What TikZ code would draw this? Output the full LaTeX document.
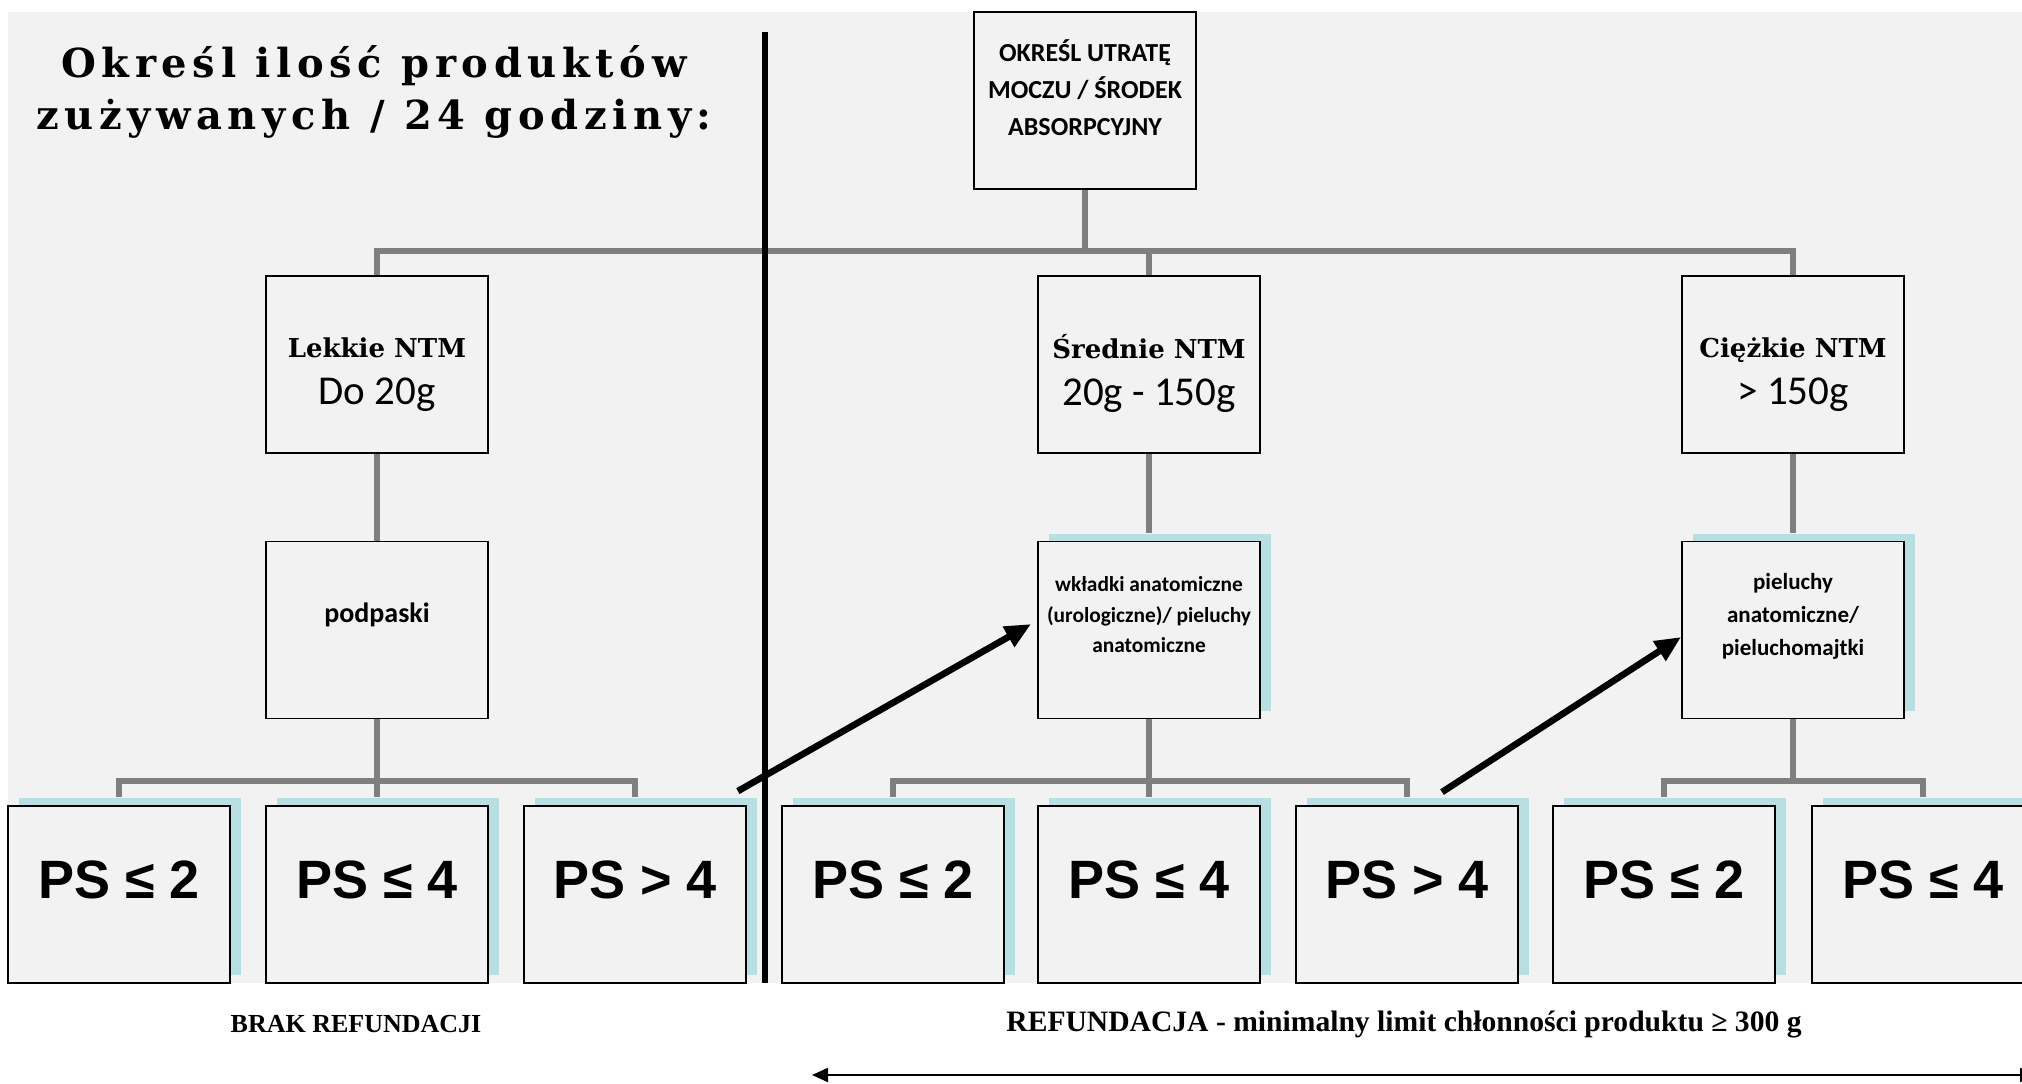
\documentclass[tikz,border=0pt]{standalone}
\usepackage{fontspec}
\setmainfont{Liberation Serif}
\newfontfamily\calibri{Carlito}
\newfontfamily\arialfont{Liberation Sans}
\newfontfamily\bookman{DejaVu Serif}
\newfontfamily\bookmanwide[LetterSpace=14]{DejaVu Serif}
\newcommand\headfont{\bookman\bfseries\fontsize{13}{15}\selectfont}
\usetikzlibrary{arrows.meta,shadows}

\definecolor{panel}{HTML}{F2F2F2}
\definecolor{linkgray}{HTML}{7F7F7F}
\definecolor{shade}{HTML}{B8DFE2}

\tikzset{
  box/.style={draw=black, line width=0.9pt, fill=panel, minimum width=111pt,
    minimum height=88.5pt, inner sep=0pt},
  shadebox/.style={box, drop shadow={shadow xshift=5.5pt, shadow yshift=4pt,
      fill=shade, opacity=1}},
  link/.style={draw=linkgray, line width=2.75pt},
  bigarrow/.style={line width=3.3pt, -{Triangle[length=13pt,width=11pt]}},
  pstext/.style={font=\arialfont\bfseries\fontsize{27}{32}\selectfont},
  grouptext/.style={align=center, font=\calibri\fontsize{20.5}{23.5}\selectfont}
}

\begin{document}
\begin{tikzpicture}[x=0.5pt, y=-0.5pt]
  \useasboundingbox (0,0) rectangle (2022,1083);

  % grey panel
  \fill[panel] (8,12) rectangle (2022,983);

  % title
  \node[font=\bookmanwide\bfseries\fontsize{20}{26}\selectfont, align=center]
    (title) at (374,92) {Określ ilość produktów\\zużywanych / 24 godziny:};

  % top box
  \node[box] (utrata) at (1085,100.5) {};
  \node[font=\calibri\bfseries\fontsize{13}{18.5}\selectfont, align=center]
    (utrata-t) at (1085,88) {OKREŚL UTRATĘ\\MOCZU / ŚRODEK\\ABSORPCYJNY};

  % level two
  \node[box] (lekkie) at (377,364.5) {};
  \node[box] (srednie) at (1149,364.5) {};
  \node[box] (ciezkie) at (1793,364.5) {};
  \node[grouptext] (lekkie-t) at (377,375)
    {{\headfont Lekkie NTM}\\Do 20g};
  \node[grouptext] (srednie-t) at (1149,373)
    {{\headfont Średnie NTM}\\20g - 150g};
  \node[grouptext] (ciezkie-t) at (1793,375)
    {{\headfont Ciężkie NTM}\\> 150g};

  % level three
  \node[box] (podpaski) at (377,630) {};
  \node[shadebox] (wkladki) at (1149,630) {};
  \node[shadebox] (pieluchy) at (1793,630) {};
  \node[font=\calibri\bfseries\fontsize{14}{17}\selectfont]
    (podpaski-t) at (377,615) {podpaski};
  \node[font=\calibri\bfseries\fontsize{10.7}{15.25}\selectfont, align=center]
    (wkladki-t) at (1149,615)
    {wkładki anatomiczne\\(urologiczne)/ pieluchy\\anatomiczne};
  \node[font=\calibri\bfseries\fontsize{11.5}{16.5}\selectfont, align=center]
    (pieluchy-t) at (1793,616) {pieluchy\\anatomiczne/\\pieluchomajtki};

  % products
  \foreach \n/\x/\t in {1/119/{PS ≤ 2}, 2/377/{PS ≤ 4}, 3/635/{PS > 4},
      4/893/{PS ≤ 2}, 5/1149/{PS ≤ 4}, 6/1407/{PS > 4},
      7/1664/{PS ≤ 2}, 8/1923/{PS ≤ 4}} {
    \node[shadebox] (ps\n) at (\x,894.5) {};
    \node[pstext] (ps\n-t) at (\x,880) {\t};
  }

  % connectors
  \draw[link] (utrata.south) -- ++(0,63);
  \draw[link] (lekkie.north) -- ++(0,-24) -| (ciezkie.north);
  \draw[link] (srednie.north) -- ++(0,-24);
  \draw[link] (lekkie.south) -- (podpaski.north);
  \draw[link] (srednie.south) -- ([yshift=4pt]wkladki.north);
  \draw[link] (ciezkie.south) -- ([yshift=4pt]pieluchy.north);
  \draw[link] (podpaski.south) -- ([yshift=4pt]ps2.north);
  \draw[link] ([yshift=4pt]ps1.north) -- ++(0,-16) -| ([yshift=4pt]ps3.north);
  \draw[link] (wkladki.south) -- ([yshift=4pt]ps5.north);
  \draw[link] ([yshift=4pt]ps4.north) -- ++(0,-16) -| ([yshift=4pt]ps6.north);
  \draw[link] (pieluchy.south) -- ++(0,64);
  \draw[link] ([yshift=4pt]ps7.north) -- ++(0,-16) -| ([yshift=4pt]ps8.north);

  % separator
  \draw[line width=3pt] (765,32) -- (765,983);

  % moving up
  \draw[bigarrow] ([xshift=-4.5pt,yshift=7pt]ps3.north east)
    -- ([xshift=-3pt,yshift=3pt]wkladki.west);
  \draw[bigarrow] ([xshift=17.5pt,yshift=6.5pt]ps6.north)
    -- ([yshift=-3.5pt]pieluchy.west);

  % refund notes
  \node[font=\bfseries\fontsize{13}{15}\selectfont] (brak) at (356,1024)
    {BRAK REFUNDACJI};
  \node[font=\bfseries\fontsize{14.8}{17}\selectfont] (refund) at (1404,1024)
    {REFUNDACJA - minimalny limit chłonności produktu ≥ 300 g};
  \coordinate (range-l) at (812,1075);
  \coordinate (range-r) at (2036,1075);
  \draw[line width=1pt, {Triangle[length=8pt,width=7pt]}-{Triangle[length=8pt,width=7pt]}]
    (range-l) -- (range-r);
\end{tikzpicture}
\end{document}
